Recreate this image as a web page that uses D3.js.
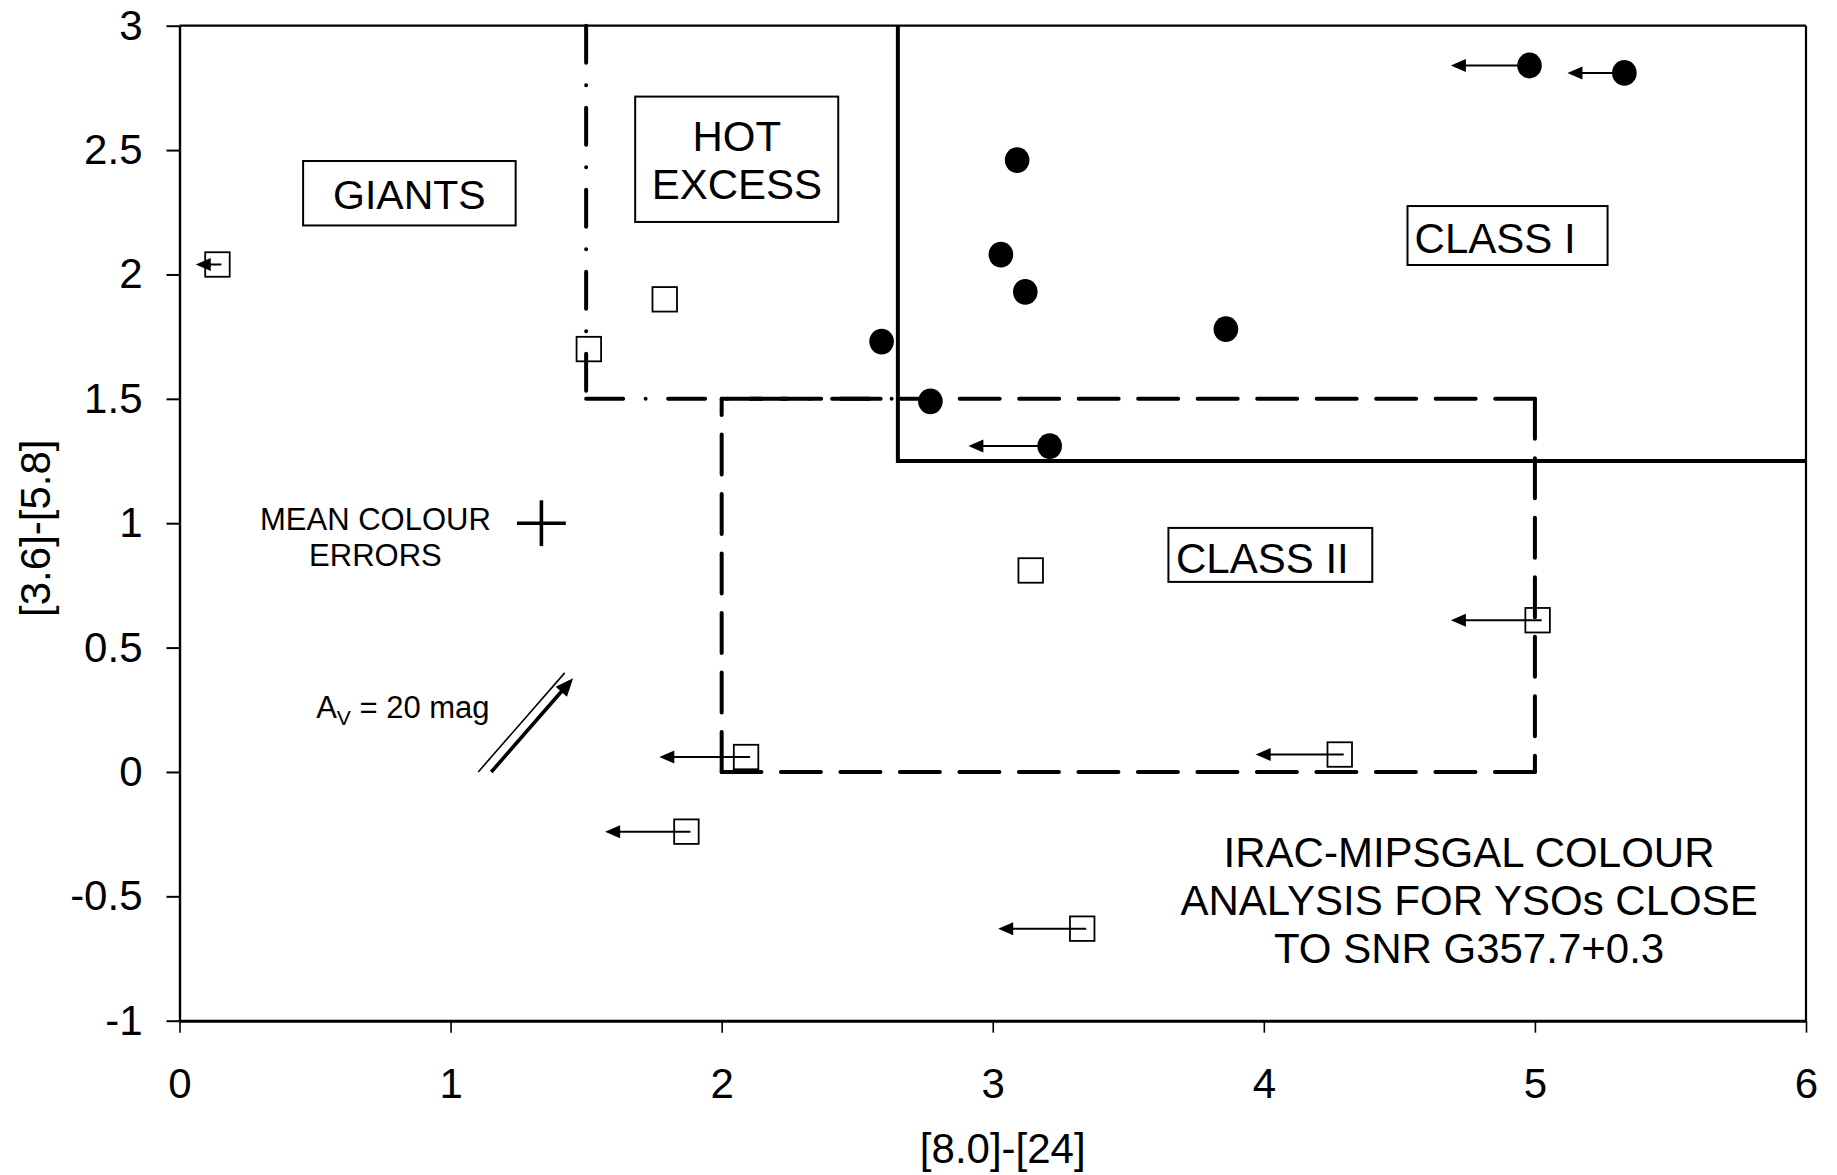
<!DOCTYPE html>
<html>
<head>
<meta charset="utf-8">
<script src="https://cdn.jsdelivr.net/npm/d3@7"></script>
<style>
  body { margin: 0; background: #fff; }
  svg { display: block; }
  text { font-family: "Liberation Sans", Arial, Helvetica, sans-serif; fill: #000; }
</style>
</head>
<body>
<svg id="chart" width="1837" height="1175"></svg>
<script>
// ---------------------------------------------------------------------------
// IRAC-MIPSGAL colour-colour diagram: [8.0]-[24] (x) vs [3.6]-[5.8] (y)
// ---------------------------------------------------------------------------

// Sources plotted as filled circles
const filledX = [4.98, 5.33, 3.09, 3.03, 3.12, 3.86, 2.59, 2.77, 3.21];
const filledY = [2.84, 2.81, 2.46, 2.08, 1.93, 1.78, 1.73, 1.49, 1.31];
// x reached by the upper-limit arrow of each source (null: no limit)
const filledLimitTo = [4.69, 5.12, null, null, null, null, null, null, 2.91];

// Sources plotted as open squares
const openX = [0.14, 1.79, 1.51, 3.14, 5.01, 2.09, 4.28, 1.87, 3.33];
const openY = [2.04, 1.90, 1.70, 0.81, 0.61, 0.06, 0.07, -0.24, -0.63];
const openLimitTo = [0.06, null, null, null, 4.69, 1.77, 3.97, 1.57, 3.02];

// Axis ticks
const xTicks = [0, 1, 2, 3, 4, 5, 6];
const xTickLabels = ["0", "1", "2", "3", "4", "5", "6"];
const yTicks = [-1, -0.5, 0, 0.5, 1, 1.5, 2, 2.5, 3];
const yTickLabels = ["-1", "-0.5", "0", "0.5", "1", "1.5", "2", "2.5", "3"];

// Region boundaries (colour units)
const classIBoundary = [[2.65, 3], [2.65, 1.25], [6, 1.25]];
const hotExcessBoundary = [[1.5, 3], [1.5, 1.5], [2.65, 1.5]];
const classIIBoundary = [[2, 0], [2, 1.5], [5, 1.5], [5, 0], [2, 0]];

// Mean photometric colour errors (centre and half-lengths)
const meanErrX = 1.335, meanErrY = 1.0, meanErrDX = 0.09, meanErrDY = 0.092;

// Extinction vector for A_V = 20 mag
const avStart = [1.15, 0.0];
const avEnd = [1.452, 0.377];

// ---------------------------------------------------------------------------
const W = 1837, H = 1175;
const margin = { top: 25.7, right: 31, bottom: 154.3, left: 179.5 };

const svg = d3.select("#chart");

const x = d3.scaleLinear().domain([0, 6]).range([margin.left, W - margin.right]);
const y = d3.scaleLinear().domain([-1, 3]).range([H - margin.bottom, margin.top]);

const FONT = "'Liberation Sans', Arial, Helvetica, sans-serif";

// --- axes -----------------------------------------------------------------
const xAxis = svg.append("g")
  .attr("transform", `translate(0,${y(-1)})`)
  .call(d3.axisBottom(x)
    .tickValues(xTicks)
    .tickFormat((d, i) => xTickLabels[i])
    .tickSize(12)
    .tickSizeOuter(0)
    .tickPadding(35))
  .attr("font-size", 42)
  .attr("font-family", FONT);
xAxis.select(".domain").attr("stroke-width", 3);
xAxis.selectAll(".tick line").attr("stroke-width", 1.6);

const yAxis = svg.append("g")
  .attr("transform", `translate(${x(0)},0)`)
  .call(d3.axisLeft(y)
    .tickValues(yTicks)
    .tickFormat((d, i) => yTickLabels[i])
    .tickSize(13)
    .tickSizeOuter(0)
    .tickPadding(24))
  .attr("font-size", 42)
  .attr("font-family", FONT);
yAxis.select(".domain").attr("stroke-width", 2.4);
yAxis.selectAll(".tick line").attr("stroke-width", 2);

// frame: top and right edges
svg.append("line")
  .attr("x1", x(0)).attr("x2", x(6)).attr("y1", y(3)).attr("y2", y(3))
  .attr("stroke", "#000").attr("stroke-width", 2.2);
svg.append("line")
  .attr("x1", x(6)).attr("x2", x(6)).attr("y1", y(3)).attr("y2", y(-1))
  .attr("stroke", "#000").attr("stroke-width", 2.2);

// axis titles
svg.append("text")
  .attr("x", (x(0) + x(6)) / 2 + 10)
  .attr("y", 1163)
  .attr("text-anchor", "middle")
  .attr("font-size", 42)
  .text("[8.0]-[24]");

svg.append("text")
  .attr("transform", `translate(50,${(y(3) + y(-1)) / 2 + 5}) rotate(-90)`)
  .attr("text-anchor", "middle")
  .attr("font-size", 42)
  .text("[3.6]-[5.8]");

// --- region boundaries -----------------------------------------------------
const bounds = svg.append("g").attr("fill", "none").attr("stroke", "#000");

// each straight segment is drawn on its own so the dash pattern restarts at every corner
function drawSegments(points, dash, width) {
  for (let i = 0; i < points.length - 1; i++) {
    bounds.append("line")
      .attr("x1", x(points[i][0])).attr("y1", y(points[i][1]))
      .attr("x2", x(points[i + 1][0])).attr("y2", y(points[i + 1][1]))
      .attr("stroke-width", width)
      .attr("stroke-linecap", "round")
      .attr("stroke-dasharray", dash);
  }
}

drawSegments(classIIBoundary, "40 19.5", 4);
drawSegments(hotExcessBoundary, "37 22.5 0 22.5", 4);

bounds.append("path")
  .attr("d", d3.line().x(d => x(d[0])).y(d => y(d[1]))(classIBoundary))
  .attr("stroke-width", 4)
  .attr("stroke-linejoin", "miter");

// --- region labels ----------------------------------------------------------
const regionBoxes = [
  { x0: 0.456, x1: 1.240, yTop: 2.456, yBot: 2.197, anchor: "middle", tx: 0.848, lines: ["GIANTS"], base: [2.263], size: 41 },
  { x0: 1.681, x1: 2.430, yTop: 2.715, yBot: 2.211, anchor: "middle", tx: 2.056, lines: ["HOT", "EXCESS"], base: [2.497, 2.302], size: 42 },
  { x0: 4.530, x1: 5.268, yTop: 2.275, yBot: 2.038, anchor: "start", tx: 4.556, lines: ["CLASS I"], base: [2.086], size: 42 },
  { x0: 3.648, x1: 4.400, yTop: 0.981, yBot: 0.764, anchor: "start", tx: 3.676, lines: ["CLASS II"], base: [0.798], size: 42 }
];

const labels = svg.append("g");
regionBoxes.forEach(b => {
  labels.append("rect")
    .attr("x", x(b.x0)).attr("y", y(b.yTop))
    .attr("width", x(b.x1) - x(b.x0)).attr("height", y(b.yBot) - y(b.yTop))
    .attr("fill", "#fff").attr("stroke", "#000").attr("stroke-width", 2);
  b.lines.forEach((t, i) => {
    labels.append("text")
      .attr("x", x(b.tx)).attr("y", y(b.base[i]))
      .attr("text-anchor", b.anchor)
      .attr("font-size", b.size)
      .text(t);
  });
});

// plot caption
const caption = ["IRAC-MIPSGAL COLOUR", "ANALYSIS FOR YSOs CLOSE", "TO SNR G357.7+0.3"];
const captionBase = [-0.381, -0.575, -0.769];
caption.forEach((t, i) => {
  svg.append("text")
    .attr("x", x(4.757)).attr("y", y(captionBase[i]))
    .attr("text-anchor", "middle")
    .attr("font-size", 42)
    .text(t);
});

// --- mean colour error bars ------------------------------------------------
const err = svg.append("g").attr("stroke", "#000").attr("stroke-width", 3.6);
err.append("line")
  .attr("x1", x(meanErrX - meanErrDX)).attr("x2", x(meanErrX + meanErrDX))
  .attr("y1", y(meanErrY)).attr("y2", y(meanErrY));
err.append("line")
  .attr("x1", x(meanErrX)).attr("x2", x(meanErrX))
  .attr("y1", y(meanErrY - meanErrDY)).attr("y2", y(meanErrY + meanErrDY));

svg.append("text")
  .attr("x", x(meanErrX) - 166).attr("y", y(meanErrY) + 7)
  .attr("text-anchor", "middle").attr("font-size", 31)
  .text("MEAN COLOUR");
svg.append("text")
  .attr("x", x(meanErrX) - 166).attr("y", y(meanErrY) + 43)
  .attr("text-anchor", "middle").attr("font-size", 31)
  .text("ERRORS");

// --- extinction vector -------------------------------------------------------
{
  const bx = x(avStart[0]), by = y(avStart[1]);
  const tx = x(avEnd[0]), ty = y(avEnd[1]);
  const len = Math.hypot(tx - bx, ty - by);
  const ux = (tx - bx) / len, uy = (ty - by) / len;
  const headLen = 18, headHalf = 7.5;
  const g = svg.append("g");
  // thick shaft with head
  g.append("line")
    .attr("x1", bx).attr("y1", by)
    .attr("x2", tx - ux * headLen * 0.8).attr("y2", ty - uy * headLen * 0.8)
    .attr("stroke", "#000").attr("stroke-width", 3.6);
  const hx = tx - ux * headLen, hy = ty - uy * headLen;
  g.append("path")
    .attr("d", `M${tx},${ty} L${hx - uy * headHalf},${hy + ux * headHalf} L${hx + uy * headHalf},${hy - ux * headHalf} Z`)
    .attr("fill", "#000");
  // thin companion line
  g.append("line")
    .attr("x1", bx - 13).attr("y1", by)
    .attr("x2", tx - 13 + ux * 7).attr("y2", ty + uy * 7)
    .attr("stroke", "#000").attr("stroke-width", 1.6);

  const lbl = svg.append("text")
    .attr("x", x(0.504)).attr("y", y(0.217))
    .attr("font-size", 31);
  lbl.append("tspan").text("A");
  lbl.append("tspan").attr("font-size", 21).attr("dy", 7).text("V");
  lbl.append("tspan").attr("dy", -7).text(" = 20 mag");
}

// --- upper-limit arrows -------------------------------------------------------
function limitArrows(xs, ys, tos, startOffset) {
  const g = svg.append("g");
  xs.forEach((v, i) => {
    const to = tos[i];
    if (to === null) return;
    const px0 = x(v) + startOffset, py = y(ys[i]);
    const tip = x(to);
    const headLen = 15, headHalf = 6.5;
    g.append("line")
      .attr("x1", px0).attr("x2", tip + headLen - 1)
      .attr("y1", py).attr("y2", py)
      .attr("stroke", "#000").attr("stroke-width", 2);
    g.append("path")
      .attr("d", `M${tip},${py} L${tip + headLen},${py - headHalf} L${tip + headLen},${py + headHalf} Z`)
      .attr("fill", "#000");
  });
}
limitArrows(filledX, filledY, filledLimitTo, 0);
limitArrows(openX, openY, openLimitTo, 4);

// --- markers -----------------------------------------------------------------
const SQ = 24.5;
svg.append("g").selectAll("rect")
  .data(openX)
  .join("rect")
  .attr("x", (d) => x(d) - SQ / 2)
  .attr("y", (d, i) => y(openY[i]) - SQ / 2)
  .attr("width", SQ).attr("height", SQ)
  .attr("fill", "none").attr("stroke", "#000").attr("stroke-width", 1.8);

svg.append("g").selectAll("ellipse")
  .data(filledX)
  .join("ellipse")
  .attr("cx", (d) => x(d))
  .attr("cy", (d, i) => y(filledY[i]))
  .attr("rx", 12.3).attr("ry", 12.9)
  .attr("fill", "#000");
</script>
</body>
</html>
